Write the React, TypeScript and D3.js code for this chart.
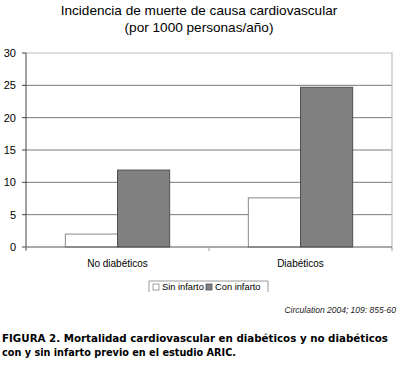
import React from 'react';
import * as d3 from 'd3';

const categories = ['No diabéticos', 'Diabéticos'];
const series = ['Sin infarto', 'Con infarto'];
const sinInfarto = [2, 7.6];
const conInfarto = [11.9, 24.7];
const yTicks = [0, 5, 10, 15, 20, 25, 30];
const titleLines = ['Incidencia de muerte de causa cardiovascular', '(por 1000 personas/año)'];
const captionLines = [
  'FIGURA 2. Mortalidad cardiovascular en diabéticos y no diabéticos',
  'con y sin infarto previo en el estudio ARIC.',
];
const citation = 'Circulation 2004; 109: 855-60';

const fills = ['#ffffff', '#808080'];
const strokes = ['#8a8a8a', '#505050'];

export default function App() {
  const left = 26;
  const right = 392;
  const top = 53;
  const bottom = 247;

  const x0 = d3.scaleBand().domain(categories).range([left, right]).paddingInner(0.43).paddingOuter(0.215);
  const x1 = d3.scaleBand().domain(series).range([0, x0.bandwidth()]);
  const y = d3.scaleLinear().domain([0, 30]).range([bottom, top]);

  const values = [sinInfarto, conInfarto];
  const font = '"Liberation Sans", Arial, sans-serif';

  return (
    <svg width={400} height={374} style={{ position: 'absolute', left: 0, top: 0, background: '#fff' }}>
      <rect width={400} height={374} fill="#fff" />
      <g fontFamily={font} fill="#000">
        {titleLines.map((t, i) => (
          <text key={t} x={199} y={15 + i * 17} textAnchor="middle" fontSize={13.6}>
            {t}
          </text>
        ))}
      </g>

      {/* grid */}
      {yTicks.filter((t) => t > 0 && t < 30).map((t) => (
        <line key={t} x1={left} x2={right} y1={y(t)} y2={y(t)} stroke="#7a7a7a" />
      ))}
      <polyline
        points={`${left},${y(30)} ${right},${y(30)} ${right},${bottom}`}
        fill="none"
        stroke="#bdbdbd"
        strokeWidth={1.2}
      />

      {/* bars */}
      {categories.map((c, ci) =>
        series.map((s, si) => {
          const v = values[si][ci];
          return (
            <rect
              key={c + s}
              x={(x0(c) as number) + (x1(s) as number)}
              y={y(v)}
              width={x1.bandwidth()}
              height={bottom - y(v)}
              fill={fills[si]}
              stroke={strokes[si]}
              strokeWidth={1}
            />
          );
        })
      )}

      {/* axes */}
      <line x1={left} x2={left} y1={top} y2={bottom + 3} stroke="#444" />
      <line x1={left} x2={right} y1={bottom} y2={bottom} stroke="#555" />
      {yTicks.map((t) => (
        <g key={t}>
          <line x1={left - 4} x2={left} y1={y(t)} y2={y(t)} stroke="#444" />
          <text x={16} y={y(t) + 4} textAnchor="end" fontSize={11} fontFamily={font}>
            {t}
          </text>
        </g>
      ))}
      {[left, (left + right) / 2, right].map((xv) => (
        <line key={xv} x1={xv} x2={xv} y1={bottom} y2={bottom + 4} stroke="#999" />
      ))}
      {categories.map((c) => (
        <text
          key={c}
          x={(x0(c) as number) + x0.bandwidth() / 2}
          y={267}
          textAnchor="middle"
          fontSize={10}
          fontFamily={font}
        >
          {c}
        </text>
      ))}

      {/* legend */}
      <polyline points="149,292 149,281 268,281 268,292" fill="none" stroke="#999" />
      {series.map((s, i) => {
        const lx = i === 0 ? 153 : 206;
        return (
          <g key={s}>
            <rect x={lx} y={284} width={6} height={6} fill={fills[i]} stroke={strokes[i]} strokeWidth={0.8} />
            <text x={lx + 9} y={290} fontSize={9.3} fontFamily={font}>
              {s}
            </text>
          </g>
        );
      })}

      <text x={396} y={313} textAnchor="end" fontSize={8.5} fontStyle="italic" fontFamily={font} fill="#222">
        {citation}
      </text>

      {captionLines.map((t, i) => (
        <text
          key={t}
          x={2}
          y={342 + i * 13.5}
          fontSize={11.2}
          fontWeight="bold"
          fontFamily='"DejaVu Sans Condensed", "DejaVu Sans", sans-serif'
          textLength={i === 0 ? 386 : 234}
          lengthAdjust="spacingAndGlyphs"
        >
          {t}
        </text>
      ))}
    </svg>
  );
}
